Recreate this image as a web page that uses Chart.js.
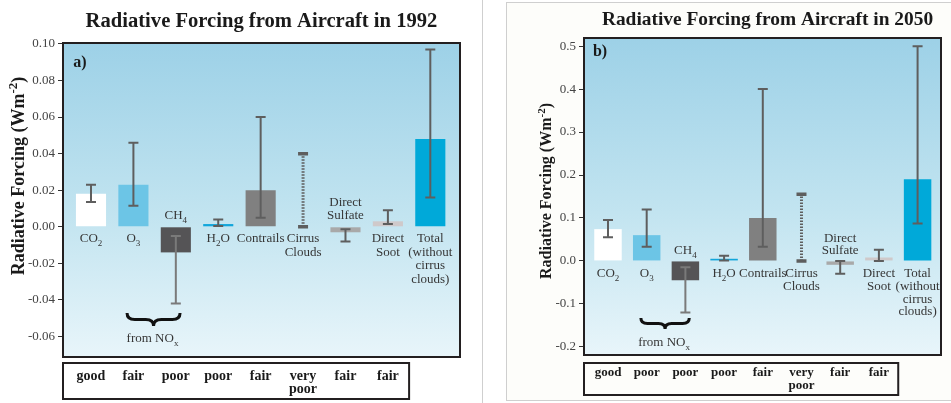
<!DOCTYPE html>
<html>
<head>
<meta charset="utf-8">
<title>Radiative Forcing from Aircraft</title>
<script src="https://cdn.jsdelivr.net/npm/chart.js@4.4.1/dist/chart.umd.min.js"></script>
<style>
  html, body { margin: 0; padding: 0; background: #fff; }
  #wrap { position: relative; width: 951px; height: 403px; overflow: hidden; }
  canvas { position: absolute; top: 0; }
  #c1992 { left: 0; }
  #c2050 { left: 475px; }
</style>
</head>
<body>
<div id="wrap">
  <canvas id="c1992" width="475" height="403"></canvas>
  <canvas id="c2050" width="476" height="403"></canvas>
</div>
<script>
// categories, shared by both panels ("_{..}" = subscript, "^{..}" = superscript)
var categories = ['CO_{2}', 'O_{3}', 'CH_{4}', 'H_{2}O', 'Contrails', 'Cirrus\nClouds',
  'Direct\nSulfate', 'Direct\nSoot', 'Total\n(without\ncirrus\nclouds)'];
var barColors = ['#ffffff', '#6cc5e6', '#555456', '#12a6db', '#808080', 'rgba(0,0,0,0)',
  '#a9a9a9', '#cfc9ca', '#00a9d9'];

// 1992 (W m-2); null = no best estimate, only a range
var value1992 = [0.018, 0.023, -0.014, 0.0015, 0.02, null, -0.003, 0.003, 0.048];
var low1992 = [0.0135, 0.0115, -0.042, 0.0005, 0.005, 0.0, -0.008, 0.0015, 0.016];
var high1992 = [0.023, 0.046, -0.005, 0.004, 0.06, 0.04, -0.0013, 0.009, 0.097];
var rating1992 = ['good', 'fair', 'poor', 'poor', 'fair', 'very\npoor', 'fair', 'fair'];
var ticks1992 = [-0.06, -0.04, -0.02, 0, 0.02, 0.04, 0.06, 0.08, 0.10];

// 2050
var value2050 = [0.074, 0.06, -0.045, 0.005, 0.1, null, -0.009, 0.008, 0.19];
var low2050 = [0.055, 0.033, -0.12, 0.001, 0.033, 0.0, -0.03, 0.0, 0.087];
var high2050 = [0.095, 0.12, -0.015, 0.012, 0.4, 0.155, 0.0, 0.026, 0.5];
var rating2050 = ['good', 'poor', 'poor', 'poor', 'fair', 'very\npoor', 'fair', 'fair'];
var ticks2050 = [-0.2, -0.1, 0, 0.1, 0.2, 0.3, 0.4, 0.5];

var SERIF = '"Liberation Serif", "Times New Roman", serif';

function richParts(str) {
  var parts = [], re = /([_^])\{([^}]*)\}/g, last = 0, m;
  while ((m = re.exec(str))) {
    if (m.index > last) parts.push({t: str.slice(last, m.index), k: ''});
    parts.push({t: m[2], k: m[1]});
    last = re.lastIndex;
  }
  if (last < str.length) parts.push({t: str.slice(last), k: ''});
  return parts;
}

function drawRich(ctx, str, x, y, size, weight) {
  var parts = richParts(str);
  var small = Math.round(size * 0.7);
  var total = 0;
  parts.forEach(function (p) {
    ctx.font = weight + ' ' + (p.k ? small : size) + 'px ' + SERIF;
    p.w = ctx.measureText(p.t).width;
    total += p.w;
  });
  var cx = x - total / 2;
  ctx.textAlign = 'left';
  ctx.textBaseline = 'middle';
  parts.forEach(function (p) {
    ctx.font = weight + ' ' + (p.k ? small : size) + 'px ' + SERIF;
    var dy = p.k === '_' ? size * 0.35 : (p.k === '^' ? -size * 0.3 : 0);
    ctx.fillText(p.t, cx, y + dy);
    cx += p.w;
  });
}

function drawBrace(ctx, x0, x1, top, h) {
  var xm = (x0 + x1) / 2, ym = top + h / 2, r = h * 0.6;
  ctx.beginPath();
  ctx.moveTo(x0, top);
  ctx.quadraticCurveTo(x0, ym, x0 + r, ym);
  ctx.lineTo(xm - r, ym);
  ctx.quadraticCurveTo(xm, ym, xm, top + h);
  ctx.moveTo(x1, top);
  ctx.quadraticCurveTo(x1, ym, x1 - r, ym);
  ctx.lineTo(xm + r, ym);
  ctx.quadraticCurveTo(xm, ym, xm, top + h);
  ctx.stroke();
}

function panelPlugin(cfg) {
  return {
    id: 'panel',
    beforeDraw: function (chart) {
      var ctx = chart.ctx, a = chart.chartArea;
      ctx.save();
      if (cfg.outerFrame) {
        ctx.fillStyle = '#fdfdfa';
        ctx.fillRect(31, 2, chart.width - 31, 399);
        ctx.strokeStyle = '#cfcfcf';
        ctx.lineWidth = 1;
        ctx.strokeRect(31.5, 2.5, chart.width, 398);
        ctx.beginPath();
        ctx.moveTo(7.5, 0);
        ctx.lineTo(7.5, chart.height);
        ctx.stroke();
      }
      var g = ctx.createLinearGradient(0, a.top, 0, a.bottom);
      g.addColorStop(0, '#9dd1e7');
      g.addColorStop(0.55, '#c2e4f0');
      g.addColorStop(1, '#e8f5fa');
      ctx.fillStyle = g;
      ctx.fillRect(a.left, a.top, a.right - a.left, a.bottom - a.top);
      ctx.restore();
    },
    afterDatasetsDraw: function (chart) {
      var ctx = chart.ctx, xs = chart.scales.x, ys = chart.scales.y;
      ctx.save();
      for (var i = 0; i < cfg.low.length; i++) {
        var x = xs.getPixelForValue(i);
        var yl = ys.getPixelForValue(cfg.low[i]);
        var yh = ys.getPixelForValue(cfg.high[i]);
        // a lighter whisker where it runs over the dark CH4 bar
        ctx.strokeStyle = cfg.values[i] !== null && cfg.values[i] < -0.01 ? '#7a7a7a' : '#5e5e5e';
        if (cfg.values[i] === null) {
          // range only: dotted line with heavy caps
          ctx.lineWidth = 3;
          ctx.setLineDash([1.5, 1.5]);
          ctx.beginPath();
          ctx.moveTo(x, yl);
          ctx.lineTo(x, yh);
          ctx.stroke();
          ctx.setLineDash([]);
          ctx.lineWidth = 3.5;
          ctx.beginPath();
          ctx.moveTo(x - 5, yl); ctx.lineTo(x + 5, yl);
          ctx.moveTo(x - 5, yh); ctx.lineTo(x + 5, yh);
          ctx.stroke();
        } else {
          ctx.lineWidth = 2;
          ctx.beginPath();
          ctx.moveTo(x, yl); ctx.lineTo(x, yh);
          ctx.moveTo(x - 5, yl); ctx.lineTo(x + 5, yl);
          ctx.moveTo(x - 5, yh); ctx.lineTo(x + 5, yh);
          ctx.stroke();
        }
      }
      ctx.restore();
    },
    afterDraw: function (chart) {
      var ctx = chart.ctx, a = chart.chartArea, xs = chart.scales.x, ys = chart.scales.y;
      ctx.save();
      // plot frame
      ctx.strokeStyle = '#231f20';
      ctx.lineWidth = 2;
      ctx.strokeRect(a.left, a.top, a.right - a.left, a.bottom - a.top);

      // titles
      ctx.fillStyle = '#1a1a1a';
      drawRich(ctx, cfg.title, (a.left + a.right) / 2 + cfg.titleDx, cfg.titleY, cfg.titleSize, 'bold');
      drawRich(ctx, cfg.tag, cfg.tagX, cfg.tagY, 16, 'bold');
      ctx.save();
      ctx.translate(cfg.yTitleX, cfg.yTitleY);
      ctx.rotate(-Math.PI / 2);
      drawRich(ctx, 'Radiative Forcing (Wm^{-2})', 0, 0, cfg.yTitleSize, 'bold');
      ctx.restore();

      // category labels next to the zero line
      var y0 = ys.getPixelForValue(0);
      ctx.fillStyle = '#363636';
      categories.forEach(function (c, i) {
        var lines = c.split('\n'), x = xs.getPixelForValue(i);
        var v = cfg.values[i];
        lines.forEach(function (ln, j) {
          var y = (v !== null && v < 0)
            ? y0 - cfg.above - (lines.length - 1 - j) * cfg.lineH
            : y0 + cfg.below + j * cfg.lineH;
          drawRich(ctx, ln, x, y, cfg.labelSize, 'normal');
        });
      });

      // NOx brace under O3 and CH4
      ctx.strokeStyle = '#111';
      ctx.lineWidth = 3;
      drawBrace(ctx, xs.getPixelForValue(0.85), xs.getPixelForValue(2.1), cfg.braceTop, cfg.braceH);
      ctx.fillStyle = '#363636';
      drawRich(ctx, 'from NO_{x}', xs.getPixelForValue(1.45), cfg.noteY, cfg.labelSize, 'normal');

      // level of scientific understanding table
      var tl = a.left, tr = xs.getPixelForValue(cfg.ratings.length - 0.5);
      ctx.strokeStyle = '#231f20';
      ctx.lineWidth = 2;
      ctx.strokeRect(tl, cfg.tableTop, tr - tl, cfg.tableBottom - cfg.tableTop);
      ctx.fillStyle = '#1a1a1a';
      cfg.ratings.forEach(function (r, i) {
        r.split('\n').forEach(function (ln, j) {
          drawRich(ctx, ln, xs.getPixelForValue(i), cfg.tableY + j * 13, cfg.tableSize, 'bold');
        });
      });
      ctx.restore();
    }
  };
}

function buildChart(id, cfg) {
  return new Chart(document.getElementById(id), {
    type: 'bar',
    data: {
      datasets: [{
        data: cfg.values.map(function (v, i) { return {x: i, y: v}; }),
        backgroundColor: barColors,
        borderWidth: 0,
        barPercentage: 0.71,
        categoryPercentage: 1
      }]
    },
    options: {
      responsive: false,
      animation: false,
      layout: {padding: cfg.padding},
      plugins: {legend: {display: false}, tooltip: {enabled: false}},
      scales: {
        x: {type: 'linear', min: cfg.xMin, max: cfg.xMax, offset: false, display: false},
        y: {
          min: cfg.yMin,
          max: cfg.yMax,
          afterFit: function (s) { s.width = 45; },
          afterBuildTicks: function (s) {
            s.ticks = cfg.ticks.map(function (v) { return {value: v}; });
          },
          ticks: {
            color: '#444',
            padding: 3,
            font: {family: SERIF, size: 13},
            callback: function (v) { return Number(v).toFixed(cfg.decimals); }
          },
          grid: {drawOnChartArea: false, drawTicks: true, tickLength: 5, color: '#333'},
          border: {display: false}
        }
      }
    },
    plugins: [panelPlugin(cfg)]
  });
}

buildChart('c1992', {
  title: 'Radiative Forcing from Aircraft in 1992', titleY: 22, titleSize: 20.6, titleDx: 0,
  tag: 'a)', tagX: 80, tagY: 63,
  yTitleX: 19, yTitleY: 176, yTitleSize: 18,
  values: value1992, low: low1992, high: high1992, ratings: rating1992, ticks: ticks1992,
  decimals: 2, yMin: -0.0712, yMax: 0.1005, xMin: -0.66, xMax: 8.70,
  padding: {left: 18, right: 15, top: 43, bottom: 46},
  labelSize: 13, lineH: 13.5, below: 12, above: 11,
  braceTop: 313, braceH: 13, noteY: 339,
  tableTop: 363, tableBottom: 399, tableY: 376, tableSize: 14
});

buildChart('c2050', {
  title: 'Radiative Forcing from Aircraft in 2050', titleY: 20, titleSize: 19.4, titleDx: 5,
  tag: 'b)', tagX: 125, tagY: 52,
  yTitleX: 72, yTitleY: 191, yTitleSize: 16,
  values: value2050, low: low2050, high: high2050, ratings: rating2050, ticks: ticks2050,
  decimals: 1, yMin: -0.219, yMax: 0.519, xMin: -0.62, xMax: 8.605,
  padding: {left: 64, right: 10, top: 38, bottom: 48},
  labelSize: 13, lineH: 12.7, below: 13, above: 10,
  braceTop: 318, braceH: 11, noteY: 343,
  tableTop: 363, tableBottom: 395, tableY: 373, tableSize: 13,
  outerFrame: true
});
</script>
</body>
</html>
